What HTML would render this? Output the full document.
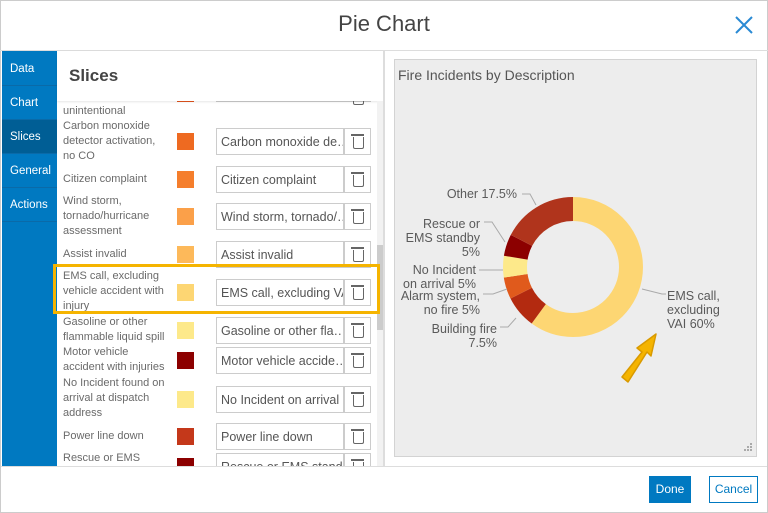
<!DOCTYPE html>
<html><head><meta charset="utf-8"><style>
*{margin:0;padding:0;box-sizing:border-box}
body{width:768px;height:513px;background:#fff;font-family:"Liberation Sans",sans-serif;position:relative;overflow:hidden}
.a{position:absolute}
.tab{position:absolute;left:2px;width:55px;height:34px;color:#fff;font-size:11.5px;padding:11px 0 0 8px;border-bottom:1px solid #0a6aa8}
.lbl{position:absolute;left:63px;width:102px;font-size:11px;line-height:15px;color:#6a6a6a}
.sw{position:absolute;left:177px;width:17px;height:17px}
.inp{position:absolute;left:216px;width:128px;height:27px;border:1px solid #ccc;background:#fff;font-size:12.5px;color:#555;padding:6px 0 0 4px;white-space:nowrap;overflow:hidden}
.tr{position:absolute;left:344px;width:27px;height:27px;border:1px solid #ccc;background:#fff}
.tr:before{content:"";position:absolute;left:8px;top:8px;width:9px;height:11px;border:1.5px solid #666;border-top:none;border-radius:0 0 2px 2px}
.tr:after{content:"";position:absolute;left:6px;top:5px;width:13px;height:2px;background:#666}
.cl{position:absolute;font-size:12.5px;line-height:14px;color:#5a5a5a;text-align:right}
</style></head><body>
<div class="a" style="left:0;top:0;width:768px;height:513px;border:1px solid #ccc"></div>
<div class="a" style="left:0;top:11px;width:768px;text-align:center;font-size:22px;color:#444">Pie Chart</div>
<svg class="a" style="left:734px;top:15px" width="20" height="20"><path d="M2 2L18 18M18 2L2 18" stroke="#2a8ad4" stroke-width="2"/></svg>
<div class="a" style="left:0;top:50px;width:768px;height:1px;background:#ddd"></div>
<div class="a" style="left:2px;top:51px;width:55px;height:416px;background:#0079c1"></div>
<div class="tab" style="top:52px">Data</div>
<div class="tab" style="top:86px">Chart</div>
<div class="tab" style="top:120px;background:#005e95">Slices</div>
<div class="tab" style="top:154px">General</div>
<div class="tab" style="top:188px">Actions</div>
<div class="lbl" style="top:104px">unintentional</div>
<div class="sw" style="top:90px;background:#e4541c;height:12px"></div>
<div class="inp" style="top:84px;height:18px"></div><div class="tr" style="top:84px;height:18px"></div>
<div class="lbl" style="top:119px">Carbon monoxide detector activation, no CO</div>
<div class="sw" style="top:133px;background:#ee6a21"></div>
<div class="inp" style="top:128px">Carbon monoxide de…</div><div class="tr" style="top:128px"></div>
<div class="lbl" style="top:172px">Citizen complaint</div>
<div class="sw" style="top:171px;background:#f57e2c"></div>
<div class="inp" style="top:166px">Citizen complaint</div><div class="tr" style="top:166px"></div>
<div class="lbl" style="top:194px">Wind storm, tornado/hurricane assessment</div>
<div class="sw" style="top:208px;background:#fba049"></div>
<div class="inp" style="top:203px">Wind storm, tornado/…</div><div class="tr" style="top:203px"></div>
<div class="lbl" style="top:247px">Assist invalid</div>
<div class="sw" style="top:246px;background:#fdb95a"></div>
<div class="inp" style="top:241px">Assist invalid</div><div class="tr" style="top:241px"></div>
<div class="lbl" style="top:269px">EMS call, excluding vehicle accident with injury</div>
<div class="sw" style="top:284px;background:#fdd673"></div>
<div class="inp" style="top:279px">EMS call, excluding VAI</div><div class="tr" style="top:279px"></div>
<div class="lbl" style="top:315px">Gasoline or other flammable liquid spill</div>
<div class="sw" style="top:322px;background:#fde98a"></div>
<div class="inp" style="top:317px">Gasoline or other fla…</div><div class="tr" style="top:317px"></div>
<div class="lbl" style="top:345px">Motor vehicle accident with injuries</div>
<div class="sw" style="top:352px;background:#8c0000"></div>
<div class="inp" style="top:347px">Motor vehicle accide…</div><div class="tr" style="top:347px"></div>
<div class="lbl" style="top:376px">No Incident found on arrival at dispatch address</div>
<div class="sw" style="top:391px;background:#fde98a"></div>
<div class="inp" style="top:386px">No Incident on arrival</div><div class="tr" style="top:386px"></div>
<div class="lbl" style="top:429px">Power line down</div>
<div class="sw" style="top:428px;background:#c4381a"></div>
<div class="inp" style="top:423px">Power line down</div><div class="tr" style="top:423px"></div>
<div class="lbl" style="top:451px">Rescue or EMS</div>
<div class="sw" style="top:458px;background:#8c0000"></div>
<div class="inp" style="top:453px">Rescue or EMS standby</div><div class="tr" style="top:453px"></div>
<div class="a" style="left:57px;top:51px;width:326px;height:50px;background:#fff;box-shadow:0 1px 2px rgba(0,0,0,.1)"></div>
<div class="a" style="left:69px;top:66px;font-size:17px;font-weight:bold;color:#444">Slices</div>
<div class="a" style="left:377px;top:101px;width:6px;height:366px;background:#f2f2f2"></div>
<div class="a" style="left:377px;top:245px;width:6px;height:85px;background:#ccc"></div>
<div class="a" style="left:53px;top:264px;width:327px;height:50px;border:3px solid #f5b400"></div>
<div class="a" style="left:383px;top:51px;width:2px;height:416px;background:#ddd"></div>
<div class="a" style="left:394px;top:59px;width:363px;height:398px;background:#ededed;border:1px solid #d3d3d3"></div>
<div class="a" style="left:398px;top:67px;font-size:14px;color:#555">Fire Incidents by Description</div>
<svg class="a" style="left:0;top:0" width="768" height="513">
<g transform="rotate(-90 573 267)" fill="none" stroke-width="24">
<circle cx="573" cy="267" r="58" stroke="#fdd673" stroke-dasharray="218.65 400"/>
<circle cx="573" cy="267" r="58" stroke="#b32a10" stroke-dasharray="27.33 400" stroke-dashoffset="-218.65"/>
<circle cx="573" cy="267" r="58" stroke="#e05a1c" stroke-dasharray="18.22 400" stroke-dashoffset="-245.98"/>
<circle cx="573" cy="267" r="58" stroke="#fde98a" stroke-dasharray="18.22 400" stroke-dashoffset="-264.2"/>
<circle cx="573" cy="267" r="58" stroke="#8c0000" stroke-dasharray="18.22 400" stroke-dashoffset="-282.42"/>
<circle cx="573" cy="267" r="58" stroke="#b0341c" stroke-dasharray="63.78 400" stroke-dashoffset="-300.64"/>
</g>
<g stroke="#aaa" fill="none" stroke-width="1">
<path d="M522 194H530L536 205"/><path d="M484 222H492L505 242"/><path d="M479 270H503"/><path d="M483 294H493L507 289"/><path d="M500 327H508L516 318"/><path d="M642 289L662 294H666"/>
</g>
<path d="M622 377L642 352L637 348L656 334L651 356L647 352L628 382Z" fill="#f5b400" stroke="#d99a00" stroke-width="1.5" stroke-linejoin="round"/>
<g fill="#aaa"><rect x="750" y="449" width="2" height="2"/><rect x="747" y="449" width="2" height="2"/><rect x="744" y="449" width="2" height="2"/><rect x="750" y="446" width="2" height="2"/><rect x="747" y="446" width="2" height="2"/><rect x="750" y="443" width="2" height="2"/></g>
</svg>
<div class="cl" style="left:420px;top:187px;width:97px">Other 17.5%</div>
<div class="cl" style="left:380px;top:217px;width:100px">Rescue or<br>EMS standby<br>5%</div>
<div class="cl" style="left:376px;top:263px;width:100px">No Incident<br>on arrival 5%</div>
<div class="cl" style="left:380px;top:289px;width:100px">Alarm system,<br>no fire 5%</div>
<div class="cl" style="left:397px;top:322px;width:100px">Building fire<br>7.5%</div>
<div class="cl" style="left:667px;top:289px;text-align:left">EMS call,<br>excluding<br>VAI 60%</div>
<div class="a" style="left:1px;top:466px;width:766px;height:46px;background:#fff;border-top:1px solid #ddd"></div>
<div class="a" style="left:649px;top:476px;width:42px;height:27px;background:#0079c1;color:#fff;font-size:12px;text-align:center;line-height:27px">Done</div>
<div class="a" style="left:709px;top:476px;width:49px;height:27px;border:1px solid #0079c1;color:#0079c1;font-size:12px;text-align:center;line-height:25px">Cancel</div>
</body></html>
